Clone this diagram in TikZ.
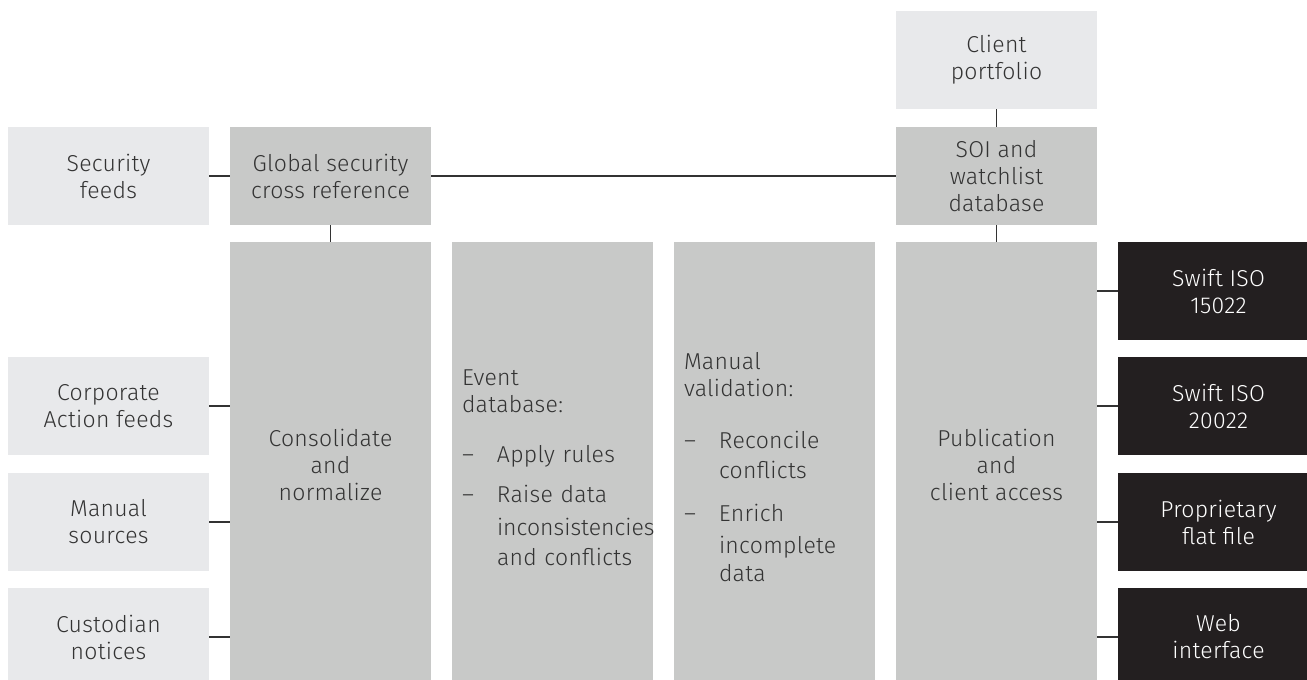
\documentclass[tikz,border=0pt]{standalone}
\usepackage{fontspec}
\setmainfont{Fira Sans}[UprightFont=* Light, LetterSpace=1.2]
\definecolor{lightg}{HTML}{E8E9EB}
\definecolor{midg}{HTML}{C8C9C8}
\definecolor{darkb}{HTML}{231F20}
\definecolor{txt}{HTML}{333333}
\tikzset{
  base/.style={inner sep=0pt, outer sep=0pt, minimum width=201pt, minimum height=98pt, align=center, text=txt},
  lbox/.style={base, fill=lightg},
  mbox/.style={base, fill=midg},
  bbox/.style={base, fill=darkb, text=white},
  col/.style={base, fill=midg, minimum height=438pt},
  listcol/.style={col, align=left, text width=181pt, inner xsep=10pt},
  conn/.style={draw=txt, line width=1.3pt},
}
\newcommand{\itm}[1]{\mbox{\makebox[35pt][l]{–}#1}}
\newcommand{\ind}[1]{\mbox{\hspace*{35pt}#1}}
\begin{document}
\begin{tikzpicture}[x=1pt,y=-1pt, font=\fontsize{23}{27}\selectfont]
\useasboundingbox (0,0) rectangle (1307,680);
% sources
\node[lbox] (sec) at (108.5,176) {Security\\feeds};
\node[lbox] (corp) at (108.5,406) {Corporate\\Action feeds};
\node[lbox] (man) at (108.5,522) {Manual\\sources};
\node[lbox] (cust) at (108.5,637) {Custodian\\notices};
\node[lbox] (client) at (996.5,60) {Client\\portfolio};
% mid grey
\node[mbox] (glob) at (330.5,176) {Global security\\cross reference};
\node[mbox] (soi) at (996.5,176) {SOI and\\watchlist\\database};
% columns
\node[col] (cons) at (330.5,461) {\mbox{}\\[-2pt]Consolidate\\and\\normalize};
\node[listcol] (event) at (552.5,461) {\mbox{}\\[2pt]Event\\database:\\[23pt]
\itm{Apply rules}\\[13pt]
\itm{Raise data}\\[6pt]
\ind{\addfontfeature{LetterSpace=0}inconsistencies}\\[3pt]
\ind{and conflicts}};
\node[listcol] (valid) at (774.5,461) {\mbox{}\\[2pt]Manual\\validation:\\[25pt]
\itm{Reconcile}\\[3pt]
\ind{conflicts}\\[16pt]
\itm{Enrich}\\[5pt]
\ind{incomplete}\\[1pt]
\ind{data}};
\node[col] (pub) at (996.5,461) {\mbox{}\\[-2pt]Publication\\and\\client access};
% outputs
\node[bbox] (s15) at (1218.5,291) {Swift ISO\\15022};
\node[bbox] (s20) at (1218.5,406) {Swift ISO\\20022};
\node[bbox] (flat) at (1218.5,522) {Proprietary\\flat file};
\node[bbox] (web) at (1218.5,637) {Web\\interface};
% connectors
\draw[conn] (sec.east) -- (glob.west);
\draw[conn] (glob.east) -- (soi.west);
\draw[conn] (client.south) -- (soi.north);
\draw[conn] (glob.south) -- (cons.north);
\draw[conn] (soi.south) -- (pub.north);
\foreach \n in {corp,man,cust}{\draw[conn] (\n.east) -- (\n.east -| cons.west);}
\foreach \n in {s15,s20,flat,web}{\draw[conn] (\n.west -| pub.east) -- (\n.west);}
\end{tikzpicture}
\end{document}
